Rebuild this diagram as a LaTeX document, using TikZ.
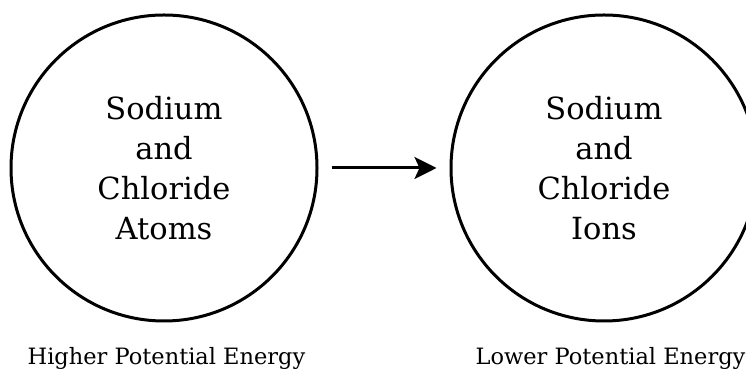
\documentclass[tikz,border=0pt]{standalone}
\usepackage{fontspec}
\setmainfont{DejaVu Serif}
\usetikzlibrary{arrows.meta}
\begin{document}
\begin{tikzpicture}[x=1pt,y=1pt,
  ball/.style={circle,draw,line width=3pt,minimum size=306pt,inner sep=0pt,align=center,
    font=\fontsize{30.5}{40}\selectfont},
  caption/.style={anchor=base,font=\fontsize{22.5}{24}\selectfont},
  conn/.style={line width=3pt,-{Stealth[length=22pt,width=22pt,inset=5pt]}}]
\useasboundingbox (0,0) rectangle (746,371);
\node[ball] (a) at (164,203) {Sodium\\and\\Chloride\\Atoms};
\node[ball] (b) at (604,203) {Sodium\\and\\Chloride\\Ions};
\draw[conn,shorten <=13pt,shorten >=13pt] (a.east) -- (b.west);
\node[caption] (ha) at (166.5,6) {Higher Potential Energy};
\node[caption] (hb) at (610.5,6) {Lower Potential Energy};
\end{tikzpicture}
\end{document}
